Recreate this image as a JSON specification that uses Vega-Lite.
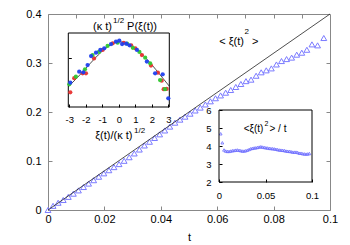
{
  "$schema": "https://vega.github.io/schema/vega-lite/v6.json",
  "width": 282,
  "height": 196,
  "autosize": {"type": "none"},
  "padding": {"left": 48, "top": 14, "right": 20, "bottom": 35},
  "config": {
    "view": {"stroke": "#888888", "strokeWidth": 1},
    "font": "Liberation Sans",
    "axis": {"grid": false, "labelFont": "Liberation Sans", "titleFont": "Liberation Sans", "labelColor": "#000000", "titleColor": "#000000", "labelFlush": false, "labelOverlap": false, "labelBound": false}
  },
  "datasets": {
    "main": [
      {"t": 0, "v": 0}, {"t": 0.0018, "v": 0.0085}, {"t": 0.0036, "v": 0.0148}, {"t": 0.0054, "v": 0.0204},
      {"t": 0.0072, "v": 0.0268}, {"t": 0.009, "v": 0.0333}, {"t": 0.0108, "v": 0.04}, {"t": 0.0126, "v": 0.0469},
      {"t": 0.0144, "v": 0.0539}, {"t": 0.0162, "v": 0.0608}, {"t": 0.018, "v": 0.0679}, {"t": 0.0198, "v": 0.0748},
      {"t": 0.0216, "v": 0.0812}, {"t": 0.0234, "v": 0.0875}, {"t": 0.0252, "v": 0.0937}, {"t": 0.027, "v": 0.1004},
      {"t": 0.0288, "v": 0.1077}, {"t": 0.0306, "v": 0.1154}, {"t": 0.0324, "v": 0.1234}, {"t": 0.0342, "v": 0.1317},
      {"t": 0.036, "v": 0.1393}, {"t": 0.0378, "v": 0.147}, {"t": 0.0396, "v": 0.1544}, {"t": 0.0414, "v": 0.1623},
      {"t": 0.0432, "v": 0.1702}, {"t": 0.045, "v": 0.1782}, {"t": 0.0468, "v": 0.1844}, {"t": 0.0486, "v": 0.1905},
      {"t": 0.0504, "v": 0.1966}, {"t": 0.0522, "v": 0.2031}, {"t": 0.054, "v": 0.209}, {"t": 0.0558, "v": 0.2154},
      {"t": 0.0576, "v": 0.2218}, {"t": 0.0594, "v": 0.2281}, {"t": 0.0612, "v": 0.2338}, {"t": 0.063, "v": 0.2394},
      {"t": 0.0648, "v": 0.2449}, {"t": 0.0666, "v": 0.2511}, {"t": 0.0684, "v": 0.2572}, {"t": 0.0702, "v": 0.263},
      {"t": 0.072, "v": 0.266}, {"t": 0.0738, "v": 0.274}, {"t": 0.0756, "v": 0.281}, {"t": 0.0774, "v": 0.285},
      {"t": 0.0792, "v": 0.289}, {"t": 0.081, "v": 0.297}, {"t": 0.0828, "v": 0.304}, {"t": 0.0846, "v": 0.308},
      {"t": 0.0864, "v": 0.311}, {"t": 0.0882, "v": 0.317}, {"t": 0.09, "v": 0.321}, {"t": 0.0918, "v": 0.327},
      {"t": 0.0936, "v": 0.338}, {"t": 0.0956, "v": 0.336}, {"t": 0.0978, "v": 0.351}
    ],
    "ratio": [
      {"t": 0.0018, "r": 4.68}, {"t": 0.0036, "r": 4.18}, {"t": 0.0054, "r": 3.78}, {"t": 0.0072, "r": 3.72},
      {"t": 0.009, "r": 3.7}, {"t": 0.0108, "r": 3.7}, {"t": 0.0126, "r": 3.72}, {"t": 0.0144, "r": 3.74},
      {"t": 0.0162, "r": 3.75}, {"t": 0.018, "r": 3.77}, {"t": 0.0198, "r": 3.78}, {"t": 0.0216, "r": 3.76},
      {"t": 0.0234, "r": 3.74}, {"t": 0.0252, "r": 3.72}, {"t": 0.027, "r": 3.72}, {"t": 0.0288, "r": 3.74},
      {"t": 0.0306, "r": 3.77}, {"t": 0.0324, "r": 3.81}, {"t": 0.0342, "r": 3.85}, {"t": 0.036, "r": 3.87},
      {"t": 0.0378, "r": 3.89}, {"t": 0.0396, "r": 3.9}, {"t": 0.0414, "r": 3.92}, {"t": 0.0432, "r": 3.94},
      {"t": 0.045, "r": 3.96}, {"t": 0.0468, "r": 3.94}, {"t": 0.0486, "r": 3.92}, {"t": 0.0504, "r": 3.9},
      {"t": 0.0522, "r": 3.89}, {"t": 0.054, "r": 3.87}, {"t": 0.0558, "r": 3.86}, {"t": 0.0576, "r": 3.85},
      {"t": 0.0594, "r": 3.84}, {"t": 0.0612, "r": 3.82}, {"t": 0.063, "r": 3.8}, {"t": 0.0648, "r": 3.78},
      {"t": 0.0666, "r": 3.77}, {"t": 0.0684, "r": 3.76}, {"t": 0.0702, "r": 3.75}, {"t": 0.072, "r": 3.72},
      {"t": 0.0738, "r": 3.71}, {"t": 0.0756, "r": 3.7}, {"t": 0.0774, "r": 3.69}, {"t": 0.0792, "r": 3.66},
      {"t": 0.081, "r": 3.66}, {"t": 0.0828, "r": 3.66}, {"t": 0.0846, "r": 3.64}, {"t": 0.0864, "r": 3.6},
      {"t": 0.0882, "r": 3.6}, {"t": 0.09, "r": 3.57}, {"t": 0.0918, "r": 3.56}, {"t": 0.0936, "r": 3.55},
      {"t": 0.0954, "r": 3.56}, {"t": 0.0972, "r": 3.58}
    ],
    "curve": [
      {"x": -3.05, "p": 0.125}, {"x": -2.5, "p": 0.18}, {"x": -2, "p": 0.235}, {"x": -1.5, "p": 0.29},
      {"x": -1, "p": 0.34}, {"x": -0.5, "p": 0.378}, {"x": 0, "p": 0.397}, {"x": 0.5, "p": 0.386},
      {"x": 1, "p": 0.357}, {"x": 1.5, "p": 0.312}, {"x": 2, "p": 0.257}, {"x": 2.5, "p": 0.196},
      {"x": 3.05, "p": 0.128}
    ],
    "dots": [
      {"x": -2.94, "p": 0.089, "s": "a"}, {"x": -2.7, "p": 0.175, "s": "a"}, {"x": -2.19, "p": 0.205, "s": "a"},
      {"x": -1.99, "p": 0.205, "s": "a"}, {"x": -1.5, "p": 0.295, "s": "a"}, {"x": -0.98, "p": 0.347, "s": "a"},
      {"x": -0.37, "p": 0.387, "s": "a"}, {"x": 0.3, "p": 0.39, "s": "a"}, {"x": 0.75, "p": 0.375, "s": "a"},
      {"x": 1.0, "p": 0.357, "s": "a"}, {"x": 1.4, "p": 0.316, "s": "a"}, {"x": 1.95, "p": 0.252, "s": "a"},
      {"x": 2.37, "p": 0.209, "s": "a"}, {"x": 2.6, "p": 0.16, "s": "a"}, {"x": 2.72, "p": 0.108, "s": "a"},
      {"x": 2.9, "p": 0.11, "s": "a"},
      {"x": -3.0, "p": 0.138, "s": "b"}, {"x": -2.6, "p": 0.184, "s": "b"}, {"x": -2.05, "p": 0.229, "s": "b"},
      {"x": -1.59, "p": 0.316, "s": "b"}, {"x": -1.2, "p": 0.335, "s": "b"}, {"x": -0.68, "p": 0.371, "s": "b"},
      {"x": -0.07, "p": 0.391, "s": "b"}, {"x": 0.5, "p": 0.385, "s": "b"}, {"x": 0.85, "p": 0.36, "s": "b"},
      {"x": 1.25, "p": 0.335, "s": "b"}, {"x": 1.6, "p": 0.3, "s": "b"}, {"x": 1.9, "p": 0.266, "s": "b"},
      {"x": 2.5, "p": 0.164, "s": "b"}, {"x": 2.8, "p": 0.108, "s": "b"},
      {"x": -2.94, "p": 0.148, "s": "c"}, {"x": -2.4, "p": 0.215, "s": "c"}, {"x": -2.15, "p": 0.211, "s": "c"},
      {"x": -1.89, "p": 0.255, "s": "c"}, {"x": -1.68, "p": 0.31, "s": "c"}, {"x": -1.38, "p": 0.33, "s": "c"},
      {"x": -1.12, "p": 0.347, "s": "c"}, {"x": -0.88, "p": 0.357, "s": "c"}, {"x": -0.47, "p": 0.383, "s": "c"},
      {"x": -0.17, "p": 0.397, "s": "c"}, {"x": 0.03, "p": 0.403, "s": "c"}, {"x": 0.2, "p": 0.383, "s": "c"},
      {"x": 0.45, "p": 0.385, "s": "c"}, {"x": 0.65, "p": 0.375, "s": "c"}, {"x": 1.1, "p": 0.347, "s": "c"},
      {"x": 1.7, "p": 0.276, "s": "c"}, {"x": 2.2, "p": 0.205, "s": "c"}, {"x": 2.66, "p": 0.199, "s": "c"},
      {"x": 3.0, "p": 0.053, "s": "c"}
    ],
    "diag": [{"t": 0, "v": 0}, {"t": 0.1, "v": 0.4}],
    "one": [{"k": 1}]
  },
  "layer": [
    {
      "layer": [
        {
          "data": {"name": "main"},
          "mark": {"type": "point", "shape": "triangle-up", "filled": false, "size": 34, "color": "#7b7bff", "strokeWidth": 1, "opacity": 1},
          "encoding": {
            "x": {"field": "t", "type": "quantitative", "scale": {"domain": [0, 0.1], "nice": false, "zero": false},
              "axis": {"orient": "bottom", "values": [0, 0.01, 0.02, 0.03, 0.04, 0.05, 0.06, 0.07, 0.08, 0.09, 0.1],
                "labelExpr": "round(datum.value*100)%2==0 ? datum.value + '' : ''",
                "tickSize": -4, "tickColor": "#888888", "domain": false, "labelPadding": 7, "labelFontSize": 11,
                "title": "t", "titleFontSize": 11, "titleFontWeight": "normal", "titlePadding": 7}},
            "y": {"field": "v", "type": "quantitative", "scale": {"domain": [0, 0.4], "nice": false},
              "axis": {"orient": "left", "values": [0, 0.1, 0.2, 0.3, 0.4], "labelExpr": "datum.value + ''",
                "tickSize": -4, "tickColor": "#888888", "domain": false, "labelPadding": 11, "labelFontSize": 11, "title": null}}
          }
        },
        {
          "data": {"name": "one"},
          "mark": {"type": "text", "text": "< ξ(t)", "align": "right", "baseline": "middle", "fontSize": 11, "color": "#000000"},
          "encoding": {"x": {"datum": 0.0695}, "y": {"datum": 0.343}}
        },
        {
          "data": {"name": "one"},
          "mark": {"type": "text", "text": "2", "align": "left", "baseline": "middle", "fontSize": 8, "color": "#000000"},
          "encoding": {"x": {"datum": 0.0697}, "y": {"datum": 0.364}}
        },
        {
          "data": {"name": "one"},
          "mark": {"type": "text", "text": ">", "align": "left", "baseline": "middle", "fontSize": 11, "color": "#000000"},
          "encoding": {"x": {"datum": 0.0723}, "y": {"datum": 0.343}}
        }
      ]
    },
    {
      "data": {"name": "diag"},
      "mark": {"type": "line", "color": "#222222", "strokeWidth": 0.8},
      "encoding": {
        "x": {"field": "t", "type": "quantitative", "scale": {"domain": [0, 0.1], "nice": false, "zero": false},
          "axis": {"orient": "top", "values": [0.01, 0.02, 0.03, 0.04, 0.05, 0.06, 0.07, 0.08, 0.09], "labels": false,
            "tickSize": -4, "tickColor": "#888888", "domain": false, "title": null}},
        "y": {"field": "v", "type": "quantitative", "scale": {"domain": [0, 0.4], "nice": false},
          "axis": {"orient": "right", "values": [0.1, 0.2, 0.3], "labels": false,
            "tickSize": -4, "tickColor": "#888888", "domain": false, "title": null}}
      }
    },
    {
      "layer": [
        {
          "data": {"name": "curve"},
          "mark": {"type": "line", "color": "#222222", "strokeWidth": 0.8, "interpolate": "monotone"},
          "encoding": {
            "x": {"field": "x", "type": "quantitative", "scale": {"domain": [-3.06, 3.06], "range": [20.3, 121.3], "nice": false, "zero": false},
              "axis": {"orient": "bottom", "offset": -103, "values": [-3, -2, -1, 0, 1, 2, 3], "labelExpr": "datum.value + ''",
                "tickSize": -3, "tickColor": "#000000", "domain": false, "labelPadding": 10, "labelFontSize": 9.5, "title": null, "zindex": 1}},
            "y": {"field": "p", "type": "quantitative", "scale": {"domain": [0, 0.45], "range": [93, 19], "nice": false, "zero": false},
              "axis": {"orient": "left", "offset": -20.3, "values": [0.3], "labels": false,
                "tickSize": -3, "tickColor": "#000000", "domain": false, "title": null, "zindex": 1}}
          }
        },
        {
          "data": {"name": "one"},
          "mark": {"type": "rect", "fill": null, "fillOpacity": 0, "stroke": "#000000", "strokeWidth": 1},
          "encoding": {"x": {"datum": -3.06}, "x2": {"datum": 3.06}, "y": {"datum": 0}, "y2": {"datum": 0.45}}
        },
        {
          "data": {"name": "dots"},
          "mark": {"type": "circle", "size": 18, "opacity": 0.95},
          "encoding": {
            "x": {"field": "x", "type": "quantitative"},
            "y": {"field": "p", "type": "quantitative"},
            "color": {"field": "s", "type": "nominal", "scale": {"domain": ["a", "b", "c"], "range": ["#e8302f", "#2fc82f", "#1f3fef"]}, "legend": null}
          }
        },
        {
          "data": {"name": "one"},
          "mark": {"type": "text", "text": "(κ t)", "align": "right", "baseline": "middle", "fontSize": 11, "color": "#000000"},
          "encoding": {"x": {"datum": -0.41}, "y": {"datum": 0.488}}
        },
        {
          "data": {"name": "one"},
          "mark": {"type": "text", "text": "1/2", "align": "left", "baseline": "middle", "fontSize": 8, "color": "#000000"},
          "encoding": {"x": {"datum": -0.35}, "y": {"datum": 0.523}}
        },
        {
          "data": {"name": "one"},
          "mark": {"type": "text", "text": "P(ξ(t))", "align": "left", "baseline": "middle", "fontSize": 11, "color": "#000000"},
          "encoding": {"x": {"datum": 0.5}, "y": {"datum": 0.488}}
        },
        {
          "data": {"name": "one"},
          "mark": {"type": "text", "text": "ξ(t)/(κ t)", "align": "right", "baseline": "middle", "fontSize": 11, "color": "#000000"},
          "encoding": {"x": {"datum": 0.83}, "y": {"datum": -0.176}}
        },
        {
          "data": {"name": "one"},
          "mark": {"type": "text", "text": "1/2", "align": "left", "baseline": "middle", "fontSize": 8, "color": "#000000"},
          "encoding": {"x": {"datum": 0.92}, "y": {"datum": -0.143}}
        }
      ]
    },
    {
      "layer": [
        {
          "data": {"name": "ratio"},
          "mark": {"type": "point", "shape": "triangle-up", "filled": false, "size": 8, "color": "#6a6aff", "strokeWidth": 0.8, "opacity": 1},
          "encoding": {
            "x": {"field": "t", "type": "quantitative", "scale": {"domain": [0, 0.1], "range": [171, 264], "nice": false, "zero": false},
              "axis": {"orient": "bottom", "offset": -28, "values": [0, 0.05, 0.1], "labelExpr": "datum.value + ''",
                "tickSize": -3, "tickColor": "#000000", "domain": false, "labelPadding": 11, "labelFontSize": 9.5, "title": null, "zindex": 1}},
            "y": {"field": "r", "type": "quantitative", "scale": {"domain": [2, 6], "range": [168, 96], "nice": false, "zero": false},
              "axis": {"orient": "left", "offset": -171, "values": [2, 3, 4, 5, 6], "labelExpr": "datum.value + ''",
                "tickSize": -3, "tickColor": "#000000", "domain": false, "labelPadding": 11, "labelFontSize": 9.5, "title": null, "zindex": 1}}
          }
        },
        {
          "data": {"name": "one"},
          "mark": {"type": "rect", "fill": null, "fillOpacity": 0, "stroke": "#000000", "strokeWidth": 1},
          "encoding": {"x": {"datum": 0}, "x2": {"datum": 0.1}, "y": {"datum": 2}, "y2": {"datum": 6}}
        },
        {
          "data": {"name": "one"},
          "mark": {"type": "text", "text": "<ξ(t)", "align": "right", "baseline": "middle", "fontSize": 10, "color": "#000000"},
          "encoding": {"x": {"datum": 0.0478}, "y": {"datum": 4.94}}
        },
        {
          "data": {"name": "one"},
          "mark": {"type": "text", "text": "2", "align": "left", "baseline": "middle", "fontSize": 7, "color": "#000000"},
          "encoding": {"x": {"datum": 0.0489}, "y": {"datum": 5.25}}
        },
        {
          "data": {"name": "one"},
          "mark": {"type": "text", "text": "> / t", "align": "left", "baseline": "middle", "fontSize": 10, "color": "#000000"},
          "encoding": {"x": {"datum": 0.0543}, "y": {"datum": 4.94}}
        }
      ]
    }
  ],
  "resolve": {"scale": {"x": "independent", "y": "independent"}, "axis": {"x": "independent", "y": "independent"}}
}
